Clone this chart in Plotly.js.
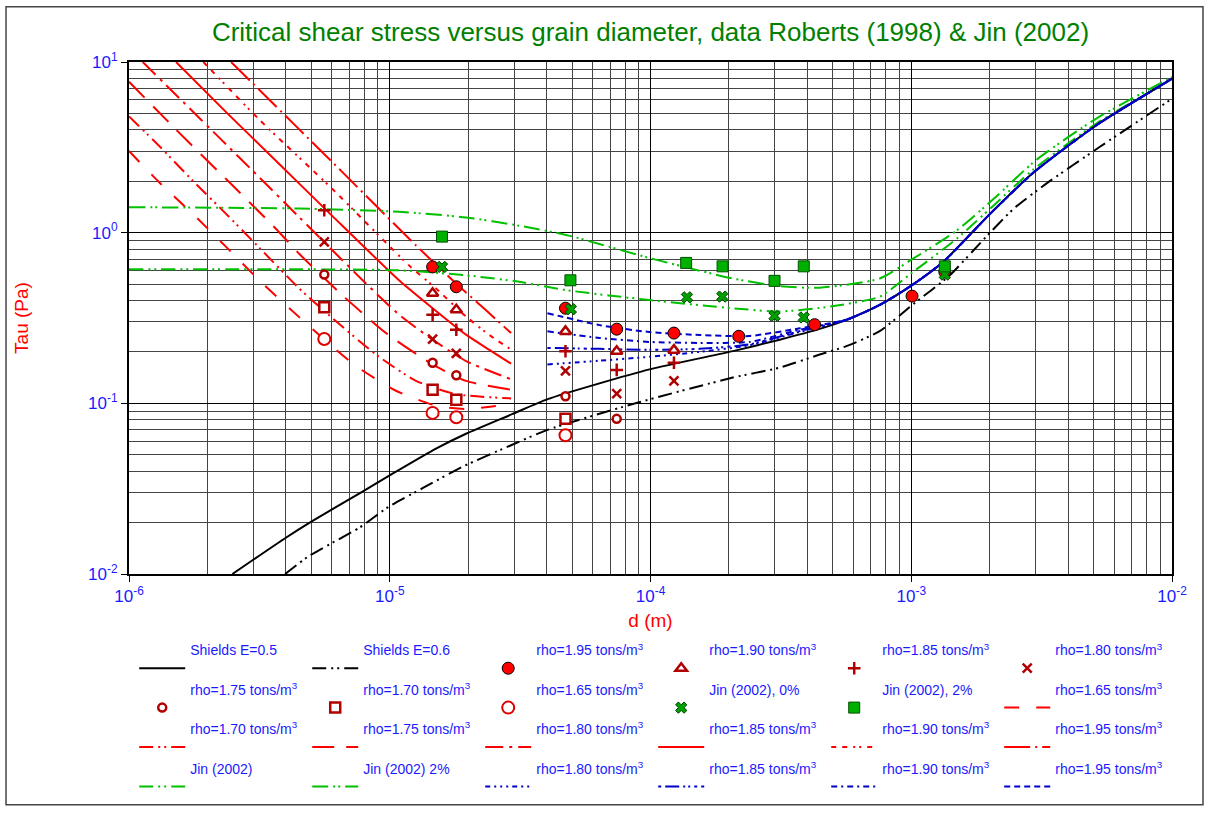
<!DOCTYPE html>
<html>
<head>
<meta charset="utf-8">
<script src="https://cdn.plot.ly/plotly-3.0.1.min.js"></script>
<style>html,body{margin:0;padding:0;background:#fff;}#chart{width:1210px;height:814px;}</style>
</head>
<body>
<div id="chart"></div>
<script>
// ---- Shields curves ----
const sh05_d   = [2.492e-6, 3.996e-6, 4.984e-6, 7.864e-6, 9.956e-6, 1.504e-5, 1.961e-5, 2.961e-5, 4.035e-5, 9.913e-5, 2.070e-4, 3.129e-4, 4.455e-4, 5.641e-4, 7.570e-4, 1.0071e-3, 1.3245e-3, 2.001e-3, 2.935e-3, 5.141e-3, 1e-2];
const sh05_tau = [0.0100, 0.01631, 0.02020, 0.03043, 0.03770, 0.05429, 0.06634, 0.08669, 0.1059, 0.1581, 0.2022, 0.2360, 0.273, 0.3085, 0.3771, 0.4926, 0.6732, 1.284, 2.242, 4.274, 7.98];
const sh06_d   = [3.971e-6, 4.909e-6, 7.639e-6, 9.956e-6, 1.336e-5, 1.903e-5, 2.919e-5, 3.978e-5, 8.552e-5, 2.070e-4, 3.129e-4, 4.455e-4, 5.641e-4, 7.570e-4, 1.016e-3, 1.405e-3, 1.888e-3, 2.459e-3, 3.304e-3, 5.291e-3, 1e-2];
const sh06_tau = [0.0100, 0.01277, 0.01865, 0.02490, 0.03181, 0.04252, 0.05681, 0.06943, 0.0991, 0.1416, 0.1618, 0.1932, 0.2162, 0.265, 0.3805, 0.5627, 0.9071, 1.373, 1.943, 3.186, 6.09];

// ---- Red curves (cohesive, d < 3e-5 m) ----
const red195_d   = [2.464e-6, 4.506e-6, 6.231e-6, 1.261e-5, 1.796e-5, 2.341e-5, 2.919e-5];
const red195_tau = [10.0, 4.015, 2.461, 0.841, 0.504, 0.351, 0.258];
const red190_d   = [1.929e-6, 3.164e-6, 6.048e-6, 1.188e-5, 1.504e-5, 1.961e-5, 2.410e-5, 2.919e-5];
const red190_tau = [10.0, 4.587, 1.793, 0.641, 0.471, 0.3228, 0.2514, 0.2065];
const red185_d   = [1.515e-6, 2.357e-6, 3.667e-6, 6.031e-6, 1.088e-5, 1.460e-5, 1.961e-5, 2.410e-5, 2.919e-5];
const red185_tau = [10.0, 5.086, 2.632, 1.250, 0.5245, 0.361, 0.2525, 0.2058, 0.1707];
const red180_d   = [1.129e-6, 1.560e-6, 2.289e-6, 3.164e-6, 4.494e-6, 8.104e-6, 1.088e-5, 1.460e-5, 1.961e-5, 2.919e-5];
const red180_tau = [10.0, 6.134, 3.439, 2.105, 1.233, 0.504, 0.330, 0.236, 0.1769, 0.1384];
const red175_d   = [1.0e-6, 1.515e-6, 2.357e-6, 3.667e-6, 4.494e-6, 6.590e-6, 9.670e-6, 1.460e-5, 1.961e-5, 2.919e-5];
const red175_tau = [7.664, 4.015, 2.061, 1.051, 0.752, 0.429, 0.2583, 0.169, 0.1354, 0.1201];
const red170_d   = [1.0e-6, 1.307e-6, 1.756e-6, 2.357e-6, 3.164e-6, 4.494e-6, 6.031e-6, 8.851e-6, 1.261e-5, 1.796e-5, 2.919e-5];
const red170_tau = [4.801, 3.216, 2.014, 1.289, 0.815, 0.471, 0.3156, 0.1932, 0.1354, 0.1132, 0.1069];
const red165_d   = [1.0e-6, 1.307e-6, 1.756e-6, 2.357e-6, 3.164e-6, 4.494e-6, 5.860e-6, 7.418e-6, 1.056e-5, 1.504e-5, 1.961e-5, 2.919e-5];
const red165_tau = [3.008, 1.969, 1.289, 0.826, 0.5245, 0.320, 0.2229, 0.1655, 0.1185, 0.0970, 0.0927, 0.0993];

// ---- Blue curves (d > 4e-5 m) ----
const blue_d      = [4.024e-5, 6.372e-5, 9.913e-5, 1.542e-4, 2.399e-4, 3.733e-4, 5.641e-4, 7.570e-4, 1.0071e-3, 1.3245e-3, 2.001e-3, 2.935e-3, 5.141e-3, 1e-2];
const blue195_tau = [0.3375, 0.2873, 0.2617, 0.2514, 0.2481, 0.275, 0.309, 0.3771, 0.4926, 0.6732, 1.284, 2.242, 4.274, 7.98];
const blue190_tau = [0.2641, 0.2415, 0.2290, 0.2259, 0.2290, 0.270, 0.3088, 0.3771, 0.4926, 0.6732, 1.284, 2.242, 4.274, 7.98];
const blue185_tau = [0.2113, 0.2085, 0.2058, 0.2085, 0.2215, 0.265, 0.3085, 0.3771, 0.4926, 0.6732, 1.284, 2.242, 4.274, 7.98];
const blue180_tau = [0.1690, 0.1777, 0.1874, 0.2003, 0.2190, 0.262, 0.3085, 0.3771, 0.4926, 0.6732, 1.284, 2.242, 4.274, 7.98];

// ---- Jin (2002) curves ----
const jin0line_d   = [1.0e-6, 4.494e-6, 1.088e-5, 1.961e-5, 3.141e-5, 4.747e-5, 9.913e-5, 2.070e-4, 3.129e-4, 4.866e-4, 7.570e-4, 1.016e-3, 1.491e-3, 2.061e-3, 2.935e-3, 5.141e-3, 1e-2];
const jin0line_tau = [0.6100, 0.6100, 0.6019, 0.5627, 0.5155, 0.4606, 0.4030, 0.3607, 0.3451, 0.3690, 0.4217, 0.5890, 0.9193, 1.435, 2.343, 4.372, 7.98];
const jin2line_d   = [1.0e-6, 4.494e-6, 1.088e-5, 1.961e-5, 3.141e-5, 4.747e-5, 9.913e-5, 2.070e-4, 3.129e-4, 4.455e-4, 7.570e-4, 1.016e-3, 1.491e-3, 2.061e-3, 3.024e-3, 5.141e-3, 1e-2];
const jin2line_tau = [1.410, 1.385, 1.324, 1.228, 1.098, 0.9698, 0.7102, 0.5385, 0.4860, 0.4756, 0.5385, 0.7036, 1.027, 1.569, 2.677, 4.676, 8.152];

// ---- Measured data, Roberts (1998) ----
const pts195_d = [1.46e-5, 1.80e-5, 4.72e-5, 7.42e-5, 1.23e-4, 2.18e-4, 4.26e-4, 1.007e-3, 1.345e-3];
const pts195_tau = [0.630, 0.482, 0.361, 0.272, 0.258, 0.247, 0.289, 0.425, 0.589];
const pts190_d = [1.46e-5, 1.80e-5, 4.72e-5, 7.42e-5, 1.23e-4];
const pts190_tau = [0.441, 0.353, 0.264, 0.202, 0.205];
const pts185_d = [5.61e-6, 1.46e-5, 1.80e-5, 4.72e-5, 7.42e-5, 1.23e-4];
const pts185_tau = [1.354, 0.330, 0.270, 0.202, 0.157, 0.173];
const pts180_d = [5.61e-6, 1.46e-5, 1.80e-5, 4.72e-5, 7.42e-5, 1.23e-4];
const pts180_tau = [0.883, 0.238, 0.196, 0.155, 0.114, 0.1355];
const pts175_d = [5.61e-6, 1.46e-5, 1.80e-5, 4.72e-5, 7.42e-5];
const pts175_tau = [0.568, 0.173, 0.146, 0.110, 0.0811];
const pts170_d = [5.61e-6, 1.46e-5, 1.80e-5, 4.72e-5];
const pts170_tau = [0.366, 0.120, 0.105, 0.0811];
const pts165_d = [5.61e-6, 1.46e-5, 1.80e-5, 4.72e-5];
const pts165_tau = [0.238, 0.0879, 0.0829, 0.0650];
// ---- Measured data, Jin (2002) ----
const jin0_d = [1.586e-5, 4.95e-5, 1.38e-4, 1.885e-4, 2.99e-4, 3.87e-4, 1.345e-3];
const jin0_tau = [0.630, 0.356, 0.418, 0.422, 0.3255, 0.3186, 0.568];
const jin2_d = [1.586e-5, 4.93e-5, 1.37e-4, 1.89e-4, 2.99e-4, 3.87e-4, 1.345e-3];
const jin2_tau = [0.948, 0.526, 0.665, 0.635, 0.522, 0.635, 0.635];

// ---- Tick labels ----
const xTickVals = [1e-6, 1e-5, 1e-4, 1e-3, 1e-2];
const xTickText = ['10<sup>-6</sup>', '10<sup>-5</sup>', '10<sup>-4</sup>', '10<sup>-3</sup>', '10<sup>-2</sup>'];
const yTickVals = [1e-2, 1e-1, 1, 10];
const yTickText = ['10<sup>-2</sup>', '10<sup>-1</sup>', '10<sup>0</sup>', '10<sup>1</sup>'];

const rhoLabel = v => 'rho=' + v + ' tons/m<sup>3</sup>';
const lg = s => s + '<br>&nbsp;';

const RED = '#ff0000', BLUE = '#0000c8', GREEN = '#00c000', DRED = '#b00000';
function line(name, x, y, color, dash, rank, width) {
  return {type:'scatter', mode:'lines', name: lg(name), x, y, legendrank: rank,
    line:{color, dash, width: width || 2, shape:'spline', smoothing:0.6}, hoverinfo:'skip'};
}
function pts(name, x, y, marker, rank) {
  return {type:'scatter', mode:'markers', name: lg(name), x, y, legendrank: rank, marker, hoverinfo:'skip'};
}
const DDOT = '14px,5px,2px,4px,2px,5px';

const traces = [
  line(rhoLabel('1.65'), red165_d, red165_tau, RED, '15px,17px', 12),
  line(rhoLabel('1.70'), red170_d, red170_tau, RED, DDOT, 13),
  line(rhoLabel('1.75'), red175_d, red175_tau, RED, '22px,12px', 14),
  line(rhoLabel('1.80'), red180_d, red180_tau, RED, '18px,6px,3px,6px', 15),
  line(rhoLabel('1.85'), red185_d, red185_tau, RED, 'solid', 16),
  line(rhoLabel('1.90'), red190_d, red190_tau, RED, '5px,6px,5px,6px,2px,4px,2px,6px', 17),
  line(rhoLabel('1.95'), red195_d, red195_tau, RED, '26px,5px,2px,5px', 18),
  line('Jin (2002)', jin0line_d, jin0line_tau, GREEN, DDOT, 19),
  line('Jin (2002) 2%', jin2line_d, jin2line_tau, GREEN, '16px,5px,2px,3px,2px,5px', 20),
  line('Shields E=0.5', sh05_d, sh05_tau, '#000000', 'solid', 1),
  line('Shields E=0.6', sh06_d, sh06_tau, '#000000', DDOT, 2),
  line(rhoLabel('1.80'), blue_d, blue180_tau, BLUE, '5px,4px,2px,4px,2px,4px,2px,4px', 21),
  line(rhoLabel('1.85'), blue_d, blue185_tau, BLUE, '3px,4px,14px,4px,2px,3px,2px,4px', 22),
  line(rhoLabel('1.90'), blue_d, blue190_tau, BLUE, '6px,4px,2px,4px', 23),
  line(rhoLabel('1.95'), blue_d, blue195_tau, BLUE, '6px,4px', 24),
  pts(rhoLabel('1.95'), pts195_d, pts195_tau, {symbol:'circle', size:12, color:RED, line:{color:'#000', width:1}}, 3),
  pts(rhoLabel('1.90'), pts190_d, pts190_tau, {symbol:'triangle-up', size:10, color:'#fff', line:{color:DRED, width:2.5}}, 4),
  pts(rhoLabel('1.85'), pts185_d, pts185_tau, {symbol:'cross-thin', size:9, color:DRED, line:{color:DRED, width:2.5}}, 5),
  pts(rhoLabel('1.80'), pts180_d, pts180_tau, {symbol:'x-thin', size:9, color:DRED, line:{color:DRED, width:2.5}}, 6),
  pts(rhoLabel('1.75'), pts175_d, pts175_tau, {symbol:'circle', size:8, color:'#fff', line:{color:DRED, width:2.5}}, 7),
  pts(rhoLabel('1.70'), pts170_d, pts170_tau, {symbol:'square', size:10, color:'#fff', line:{color:DRED, width:2.5}}, 8),
  pts(rhoLabel('1.65'), pts165_d, pts165_tau, {symbol:'circle', size:12, color:'#fff', line:{color:'#e00000', width:2}}, 9),
  pts('Jin (2002), 0%', jin0_d, jin0_tau, {symbol:'x', size:10, color:'#00a000', line:{color:'#004000', width:1}}, 10),
  pts('Jin (2002), 2%', jin2_d, jin2_tau, {symbol:'square', size:11, color:'#00b000', line:{color:'#005000', width:1}}, 11)
];

const FONT = 'Liberation Sans, Arial, sans-serif';
const axisCommon = {
  type:'log', tickmode:'array',
  tickfont:{family:FONT, size:17, color:'#1a1aff'},
  showgrid:true, gridcolor:'#000', gridwidth:1,
  minor:{dtick:'D1', showgrid:true, gridcolor:'#444', gridwidth:1, ticks:''},
  zeroline:false, showline:true, linecolor:'#000', linewidth:2, mirror:true,
  ticks:'outside', ticklen:6, tickcolor:'#000'
};

const layout = {
  width:1210, height:814,
  margin:{l:129, r:38, t:62, b:238},
  paper_bgcolor:'#fff', plot_bgcolor:'#fff',
  font:{family:FONT},
  title:{text:'Critical shear stress versus grain diameter, data Roberts (1998) & Jin (2002)',
    font:{family:FONT, size:26, color:'#008000'}, xref:'paper', x:0.5, xanchor:'center', yref:'container', y:0.961, yanchor:'middle'},
  xaxis:Object.assign({}, axisCommon, {range:[-6,-2], tickvals:xTickVals, ticktext:xTickText,
    title:{text:'d (m)', font:{family:FONT, size:19, color:RED}, standoff:8}}),
  yaxis:Object.assign({}, axisCommon, {range:[-2,1], tickvals:yTickVals, ticktext:yTickText,
    title:{text:'Tau (Pa)', font:{family:FONT, size:19, color:RED}, standoff:54}}),
  showlegend:true,
  legend:{orientation:'h', x:0.005, xanchor:'left', y:-0.118, yanchor:'top',
    entrywidth:112, entrywidthmode:'pixels', itemwidth:46, traceorder:'normal', valign:'bottom',
    font:{family:FONT, size:14, color:'#1a1aff'}, bgcolor:'rgba(0,0,0,0)'},
  shapes:[{type:'rect', xref:'paper', yref:'paper', x0:-0.1179, x1:1.0297, y0:-0.4509, y1:1.1079,
    line:{color:'#444', width:1.5}, fillcolor:'rgba(0,0,0,0)', layer:'below'}]
};

Plotly.newPlot('chart', traces, layout, {displayModeBar:false, staticPlot:true});
</script>
</body>
</html>
